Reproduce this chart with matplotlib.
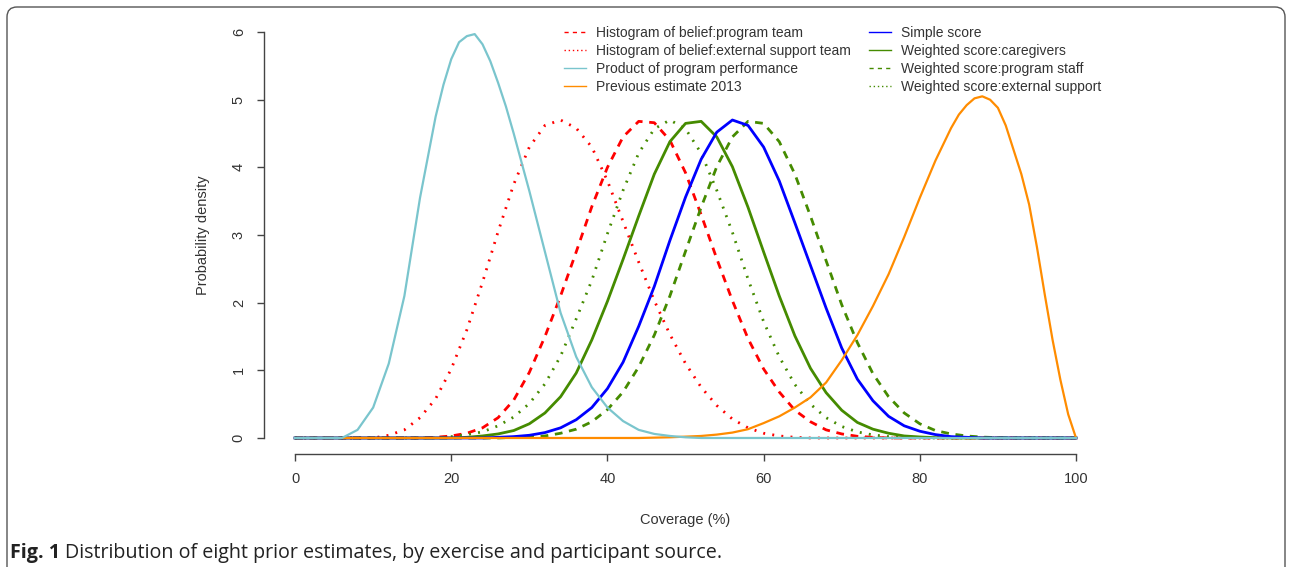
import matplotlib
matplotlib.use('Agg')
import matplotlib.pyplot as plt
from matplotlib.lines import Line2D
from matplotlib.patches import FancyBboxPatch

plt.rcParams['font.family'] = ['Liberation Sans', 'DejaVu Sans']

# coverage grid (%) shared by six of the curves
coverage = list(range(0, 101, 2))

# densities, one value per coverage point
hist_program_team = [0, 0, 0, 0, 0, 0, 0, 0, 0,
                     0.01, 0.03, 0.07, 0.15, 0.30, 0.56, 0.97, 1.50, 2.10, 2.75,
                     3.42, 4.00, 4.45, 4.68, 4.66, 4.40, 3.92, 3.30, 2.65, 2.03,
                     1.47, 1.02, 0.68, 0.41, 0.24, 0.12, 0.06, 0.025, 0.01,
                     0, 0, 0, 0, 0, 0, 0, 0, 0, 0, 0, 0, 0]
hist_external_team = [0, 0, 0, 0, 0,
                      0.0, 0.04, 0.12, 0.30, 0.58, 1.02, 1.60, 2.30, 3.05, 3.75,
                      4.30, 4.62, 4.70, 4.58, 4.30, 3.80, 3.20, 2.60, 2.03, 1.53,
                      1.10, 0.75, 0.48, 0.28, 0.15, 0.07, 0.03, 0.01, 0,
                      0, 0, 0, 0, 0, 0, 0, 0, 0, 0, 0, 0, 0, 0, 0, 0, 0]
simple_score = [0, 0, 0, 0, 0, 0, 0, 0, 0, 0, 0, 0, 0,
                0.01, 0.02, 0.04, 0.08, 0.15, 0.27, 0.45, 0.73, 1.12, 1.65,
                2.24, 2.92, 3.56, 4.12, 4.52, 4.70, 4.62, 4.30, 3.80, 3.18,
                2.55, 1.92, 1.33, 0.87, 0.55, 0.32, 0.18, 0.10, 0.05, 0.02, 0.01,
                0, 0, 0, 0, 0, 0, 0]
weighted_caregivers = [0, 0, 0, 0, 0, 0, 0, 0, 0, 0, 0,
                       0.01, 0.03, 0.06, 0.11, 0.21, 0.37, 0.61, 0.96, 1.45, 2.02,
                       2.64, 3.28, 3.90, 4.38, 4.65, 4.68, 4.45, 4.01, 3.41, 2.75,
                       2.10, 1.51, 1.03, 0.67, 0.41, 0.23, 0.13, 0.07, 0.03, 0.015,
                       0.005,
                       0, 0, 0, 0, 0, 0, 0, 0, 0]
weighted_staff = [0, 0, 0, 0, 0, 0, 0, 0, 0, 0, 0, 0, 0, 0,
                  0.01, 0.015, 0.03, 0.07, 0.13, 0.24, 0.42, 0.68, 1.05, 1.52,
                  2.10, 2.76, 3.41, 4.01, 4.45, 4.68, 4.65, 4.38, 3.90, 3.28,
                  2.62, 1.97, 1.41, 0.95, 0.61, 0.37, 0.21, 0.11, 0.06, 0.03,
                  0.013, 0.005,
                  0, 0, 0, 0, 0]
weighted_external = [0, 0, 0, 0, 0, 0, 0, 0, 0, 0,
                     0.02, 0.05, 0.09, 0.18, 0.31, 0.51, 0.80, 1.21, 1.76, 2.33,
                     3.02, 3.66, 4.21, 4.57, 4.70, 4.57, 4.21, 3.66, 3.04, 2.35,
                     1.72, 1.20, 0.79, 0.50, 0.30, 0.17, 0.09, 0.045, 0.02, 0.01,
                     0, 0, 0, 0, 0, 0, 0, 0, 0, 0, 0]

# the two sharper curves get their own grids, finer round the peak
coverage_product = [0, 6, 8, 10, 12, 14, 16, 18, 19, 20, 21, 22, 23, 24, 25, 26,
                    27, 28, 30, 32, 34, 36, 38, 40, 42, 44, 46, 48, 50, 52, 100]
program_performance = [0, 0.0, 0.12, 0.45, 1.10, 2.10, 3.55, 4.75, 5.22, 5.60,
                       5.85, 5.94, 5.97, 5.82, 5.57, 5.25, 4.90, 4.50, 3.65,
                       2.75, 1.85, 1.20, 0.75, 0.45, 0.25, 0.12, 0.06, 0.03, 0.01,
                       0, 0]

coverage_2013 = [0, 44, 46, 48, 50, 52, 54, 56, 58, 60, 62, 64, 66, 68, 70, 72,
                 74, 76, 78, 80, 82, 84, 85, 86, 87, 88, 89, 90, 91, 92, 93, 94,
                 95, 96, 97, 98, 99, 100]
previous_2013 = [0, 0.0, 0.005, 0.01, 0.02, 0.03, 0.05, 0.08, 0.13, 0.22, 0.32,
                 0.45, 0.60, 0.82, 1.15, 1.52, 1.95, 2.42, 2.97, 3.55, 4.10, 4.58,
                 4.78, 4.92, 5.02, 5.05, 5.00, 4.88, 4.62, 4.26, 3.90, 3.45, 2.82,
                 2.12, 1.45, 0.86, 0.35, 0.0]

labels = ['Histogram of belief:program team',
          'Histogram of belief:external support team',
          'Product of program performance',
          'Previous estimate 2013',
          'Simple score',
          'Weighted score:caregivers',
          'Weighted score:program staff',
          'Weighted score:external support']

RED = '#FF0000'
CYAN = '#7AC5CD'
ORANGE = '#FF8C00'
BLUE = '#0000FF'
GREEN = '#458B00'
DASH = (0, (2.8, 2.4))
DOT = (0, (0.7, 2.6))

fig = plt.figure(figsize=(12.92, 5.67), dpi=100)
ax = fig.add_axes([0.2042, 0.1989, 0.6528, 0.7732])

# density curves (cyan and orange last so their zero runs sit on top)
ax.plot(coverage, hist_program_team, color=RED, lw=2, ls=DASH)
ax.plot(coverage, hist_external_team, color=RED, lw=2, ls=DOT)
ax.plot(coverage, weighted_external, color=GREEN, lw=2, ls=DOT)
ax.plot(coverage, weighted_staff, color=GREEN, lw=2, ls=DASH)
ax.plot(coverage, weighted_caregivers, color=GREEN, lw=2)
ax.plot(coverage, simple_score, color=BLUE, lw=2)
ax.plot(coverage_2013, previous_2013, color=ORANGE, lw=1.6)
ax.plot(coverage_product, program_performance, color=CYAN, lw=1.6)

ax.set_xlim(-4, 104)
ax.set_ylim(-0.24, 6.24)
for s in ['top', 'right']:
    ax.spines[s].set_visible(False)
ax.spines['left'].set_bounds(0, 6)
ax.spines['bottom'].set_bounds(0, 100)
for s in ['left', 'bottom']:
    ax.spines[s].set_color('#444444')
    ax.spines[s].set_linewidth(1)

ax.set_xticks([0, 20, 40, 60, 80, 100])
ax.set_yticks([0, 1, 2, 3, 4, 5, 6])
ax.tick_params(direction='out', length=5, width=1, color='#444444',
               labelsize=10.5, labelcolor='#333333', pad=8)
for t in ax.get_yticklabels():
    t.set_rotation(90)
    t.set_va('center')

ax.set_xlabel('Coverage (%)', fontsize=10.5, color='#333333', va='center')
ax.xaxis.set_label_coords(0.5, -0.150)
ax.set_ylabel('Probability density', fontsize=10.5, color='#333333', va='center')
ax.yaxis.set_label_coords(-0.0721, 0.5)

# legend, thin lines like R
handles = [Line2D([], [], color=RED, lw=1, ls=(0, (3, 3))),
           Line2D([], [], color=RED, lw=1, ls=(0, (1, 2))),
           Line2D([], [], color=CYAN, lw=1),
           Line2D([], [], color=ORANGE, lw=1),
           Line2D([], [], color=BLUE, lw=1),
           Line2D([], [], color=GREEN, lw=1),
           Line2D([], [], color=GREEN, lw=1, ls=(0, (3, 3))),
           Line2D([], [], color=GREEN, lw=1, ls=(0, (1, 2)))]
fig.legend(handles, labels, ncol=2, frameon=False, fontsize=10,
           loc='upper left', bbox_to_anchor=(564 / 1292, 1 - 26 / 567),
           borderpad=0, borderaxespad=0, handlelength=1.6, handletextpad=0.7,
           columnspacing=1.3, labelspacing=0.28, labelcolor='#333333')

# figure frame and caption
frame = FancyBboxPatch((7, -40), 1278, 600, boxstyle='round,pad=0,rounding_size=10',
                       transform=None, fill=False, edgecolor='#555555', lw=1,
                       clip_on=False)
fig.patches.append(frame)

cap_y = 1 - 553 / 567
bold = fig.text(10 / 1292, cap_y, 'Fig. 1', fontsize=14.2, fontweight='bold',
                family='Open Sans', va='center', color='#222222')
fig.canvas.draw()
bb = bold.get_window_extent(fig.canvas.get_renderer())
fig.text((bb.x1 + 5) / 1292, cap_y,
         'Distribution of eight prior estimates, by exercise and participant source.',
         fontsize=14.2, family='Open Sans', va='center', color='#222222')

fig.savefig('out.png', dpi=100)
